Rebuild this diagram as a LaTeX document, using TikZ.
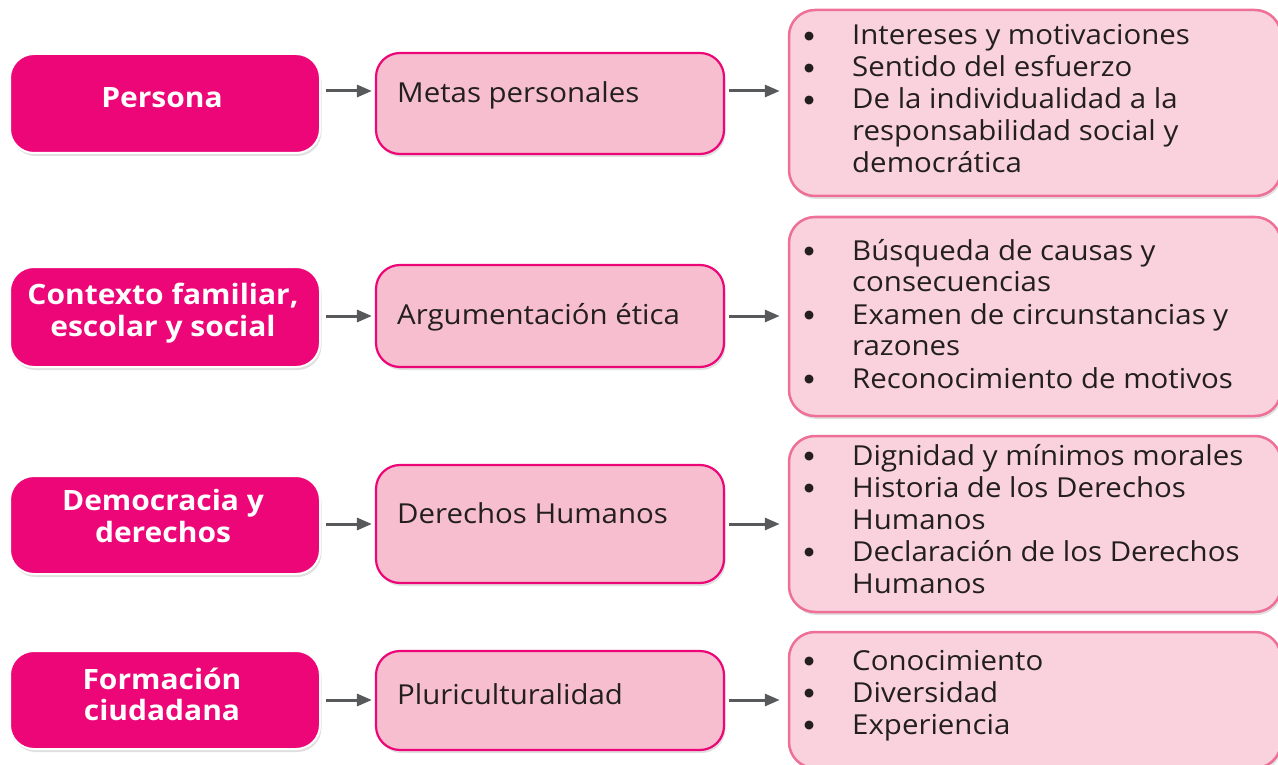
\documentclass[tikz,border=0pt]{standalone}
\usepackage{fontspec}
\setmainfont[FakeStretch=1.07]{Open Sans}
\newfontfamily\bulfont{DejaVu Sans}
\usetikzlibrary{arrows.meta,shadows}
\definecolor{mag}{HTML}{EC0677}
\definecolor{midfill}{HTML}{F6BECF}
\definecolor{rfill}{HTML}{F9D2DD}
\definecolor{rdraw}{HTML}{EE7097}
\definecolor{arrc}{HTML}{58595B}
\definecolor{txt}{HTML}{231F20}
\newcommand\mybul{\hspace*{2pt}\raisebox{5.5pt}{\fontsize{11.5}{12}\selectfont\bulfont ●}}
\tikzset{
 shad/.style={drop shadow={shadow xshift=1.5pt, shadow yshift=-3pt, fill=black, opacity=0.12}},
 lbox/.style={shape=rectangle, rounded corners=24pt, fill=mag, draw=white, line width=2pt, minimum width=310pt, shad, inner sep=0pt},
 mbox/.style={shape=rectangle, rounded corners=24pt, fill=midfill, draw=mag, line width=2.2pt, minimum width=348pt, shad, inner sep=0pt},
 rbox/.style={shape=rectangle, rounded corners=26pt, fill=rfill, draw=rdraw, line width=2.5pt, minimum width=492pt, shad, inner sep=0pt},
 ltxt/.style={text=white, font=\fontsize{28}{31}\selectfont\bfseries, align=center, inner sep=0pt},
 mtxt/.style={text=txt, font=\fontsize{27.5}{32}\selectfont, anchor=base west, inner sep=0pt},
 rtxt/.style={text=txt, font=\fontsize{27.5}{32}\selectfont, anchor=base west, inner sep=0pt},
 arr/.style={draw=arrc, line width=3pt, -{Triangle[length=15pt,width=12pt]}},
}
\begin{document}
\begin{tikzpicture}[x=1pt,y=-1pt]
\useasboundingbox (0,0) rectangle (1278,765);
\clip (0,0) rectangle (1278,765);
% left boxes
\node[lbox, minimum height=99pt] (l1) at (165,103.5) {};
\node[lbox, minimum height=100pt] (l2) at (165,317) {};
\node[lbox, minimum height=98pt] (l3) at (165,525) {};
\node[lbox, minimum height=98pt] (l4) at (165,700) {};
\node[ltxt, anchor=base] (l1t) at (162,108) {Persona};
\node[ltxt, anchor=base] (l2t) at (163,304) {Contexto familiar,};
\node[ltxt, anchor=base] (l2u) at (163,336) {escolar y social};
\node[ltxt, anchor=base] (l3t) at (163,510) {Democracia y};
\node[ltxt, anchor=base] (l3u) at (163,542) {derechos};
\node[ltxt, anchor=base] (l4t) at (162,689) {Formación};
\node[ltxt, anchor=base] (l4u) at (162,720) {ciudadana};
% middle boxes
\node[mbox, minimum height=101pt] (m1) at (550,103.5) {};
\node[mbox, minimum height=102pt] (m2) at (550,316) {};
\node[mbox, minimum height=118pt] (m3) at (550,524) {};
\node[mbox, minimum height=99pt] (m4) at (550,700.5) {};
\node[mtxt] (m1t) at (397,103) {Metas personales};
\node[mtxt] (m2t) at (397,324) {Argumentación ética};
\node[mtxt] (m3t) at (397,523) {Derechos Humanos};
\node[mtxt] (m4t) at (397,704) {Pluriculturalidad};
% right boxes
\node[rbox, minimum height=186pt] (r1) at (1035,103) {};
\node[rbox, minimum height=199pt] (r2) at (1035,316.5) {};
\node[rbox, minimum height=176pt] (r3) at (1035,524) {};
\node[rbox, minimum height=136pt] (r4) at (1035,700) {};
\node[rtxt] (r1t) at (802,45) {\begin{tabular}[t]{@{}p{50pt}@{}l@{}}
\mybul & Intereses y motivaciones\\
\mybul & Sentido del esfuerzo\\
\mybul & De la individualidad a la\\
 & responsabilidad social y\\
 & democrática
\end{tabular}};
\node[rtxt] (r2t) at (802,260) {\begin{tabular}[t]{@{}p{50pt}@{}l@{}}
\mybul & Búsqueda de causas y\\
 & consecuencias\\
\mybul & Examen de circunstancias y\\
 & razones\\
\mybul & Reconocimiento de motivos
\end{tabular}};
\node[rtxt] (r3t) at (802,465) {\begin{tabular}[t]{@{}p{50pt}@{}l@{}}
\mybul & Dignidad y mínimos morales\\
\mybul & Historia de los Derechos\\
 & Humanos\\
\mybul & Declaración de los Derechos\\
 & Humanos
\end{tabular}};
\node[rtxt] (r4t) at (802,670) {\begin{tabular}[t]{@{}p{50pt}@{}l@{}}
\mybul & Conocimiento\\
\mybul & Diversidad\\
\mybul & Experiencia
\end{tabular}};
% arrows
\coordinate (a1) at (0,91);
\coordinate (a2) at (0,316);
\coordinate (a3) at (0,524);
\coordinate (a4) at (0,700);
\draw[arr, shorten <=5pt, shorten >=3pt] (l1.east |- a1) -- (m1.west |- a1);
\draw[arr, shorten <=5pt, shorten >=3pt] (l2.east |- a2) -- (m2.west |- a2);
\draw[arr, shorten <=5pt, shorten >=3pt] (l3.east |- a3) -- (m3.west |- a3);
\draw[arr, shorten <=5pt, shorten >=3pt] (l4.east |- a4) -- (m4.west |- a4);
\draw[arr, shorten <=4pt, shorten >=8pt] (m1.east |- a1) -- (r1.west |- a1);
\draw[arr, shorten <=4pt, shorten >=8pt] (m2.east |- a2) -- (r2.west |- a2);
\draw[arr, shorten <=4pt, shorten >=8pt] (m3.east |- a3) -- (r3.west |- a3);
\draw[arr, shorten <=4pt, shorten >=8pt] (m4.east |- a4) -- (r4.west |- a4);
\end{tikzpicture}
\end{document}
